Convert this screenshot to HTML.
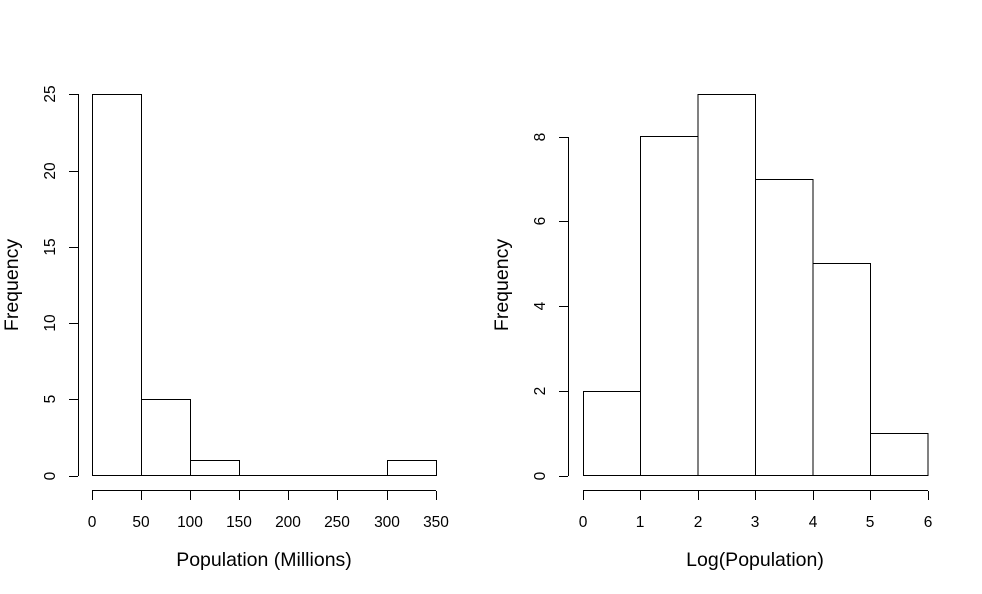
<!DOCTYPE html><html><head><style>body{margin:0;background:#fff}</style></head><body>
<svg width="982" height="589" xmlns="http://www.w3.org/2000/svg" font-family="Liberation Sans, sans-serif" fill="none" stroke="#000" stroke-width="1">
<g>
<rect x="92.5" y="94.5" width="49" height="381"/>
<rect x="141.5" y="399.5" width="49" height="76"/>
<rect x="190.5" y="460.5" width="49" height="15"/>
<line x1="239" y1="475.5" x2="387" y2="475.5"/>
<rect x="387.5" y="460.5" width="49" height="15"/>
<line x1="78.5" y1="94" x2="78.5" y2="476"/>
<g><line x1="69" y1="476.5" x2="78" y2="476.5"/><line x1="69" y1="399.5" x2="78" y2="399.5"/><line x1="69" y1="323.5" x2="78" y2="323.5"/><line x1="69" y1="247.5" x2="78" y2="247.5"/><line x1="69" y1="171.5" x2="78" y2="171.5"/><line x1="69" y1="94.5" x2="78" y2="94.5"/></g>
<line x1="92" y1="490.5" x2="436" y2="490.5"/>
<g><line x1="92.5" y1="491" x2="92.5" y2="500"/><line x1="141.5" y1="491" x2="141.5" y2="500"/><line x1="190.5" y1="491" x2="190.5" y2="500"/><line x1="239.5" y1="491" x2="239.5" y2="500"/><line x1="288.5" y1="491" x2="288.5" y2="500"/><line x1="337.5" y1="491" x2="337.5" y2="500"/><line x1="387.5" y1="491" x2="387.5" y2="500"/><line x1="436.5" y1="491" x2="436.5" y2="500"/></g>
<g fill="#000" stroke="none" font-size="15.5" text-anchor="middle">
<text x="92" y="527">0</text><text x="141" y="527">50</text><text x="190" y="527">100</text><text x="239" y="527">150</text><text x="288" y="527">200</text><text x="337" y="527">250</text><text x="387" y="527">300</text><text x="436" y="527">350</text>
<text transform="translate(55,476) rotate(-90)">0</text><text transform="translate(55,399) rotate(-90)">5</text><text transform="translate(55,323) rotate(-90)">10</text><text transform="translate(55,247) rotate(-90)">15</text><text transform="translate(55,171) rotate(-90)">20</text><text transform="translate(55,94) rotate(-90)">25</text>
<text x="264" y="566" font-size="19.5">Population (Millions)</text>
<text transform="translate(18,285) rotate(-90)" font-size="19.5">Frequency</text>
</g>
</g>
<g>
<rect x="583.5" y="391.5" width="57" height="84"/>
<rect x="640.5" y="136.5" width="57.5" height="339"/>
<rect x="698" y="94.5" width="57.5" height="381"/>
<rect x="755.5" y="179.5" width="57.5" height="296"/>
<rect x="813" y="263.5" width="57.5" height="212"/>
<rect x="870.5" y="433.5" width="57.5" height="42"/>
<line x1="568.5" y1="137" x2="568.5" y2="476"/>
<g><line x1="559" y1="476.5" x2="568" y2="476.5"/><line x1="559" y1="391.5" x2="568" y2="391.5"/><line x1="559" y1="306.5" x2="568" y2="306.5"/><line x1="559" y1="221.5" x2="568" y2="221.5"/><line x1="559" y1="137.5" x2="568" y2="137.5"/></g>
<line x1="583" y1="490.5" x2="928" y2="490.5"/>
<g><line x1="583.5" y1="491" x2="583.5" y2="500"/><line x1="640.5" y1="491" x2="640.5" y2="500"/><line x1="698.5" y1="491" x2="698.5" y2="500"/><line x1="755.5" y1="491" x2="755.5" y2="500"/><line x1="813.5" y1="491" x2="813.5" y2="500"/><line x1="870.5" y1="491" x2="870.5" y2="500"/><line x1="928.5" y1="491" x2="928.5" y2="500"/></g>
<g fill="#000" stroke="none" font-size="15.5" text-anchor="middle">
<text x="583" y="527">0</text><text x="640" y="527">1</text><text x="698" y="527">2</text><text x="755" y="527">3</text><text x="813" y="527">4</text><text x="870" y="527">5</text><text x="928" y="527">6</text>
<text transform="translate(545,476) rotate(-90)">0</text><text transform="translate(545,391) rotate(-90)">2</text><text transform="translate(545,306) rotate(-90)">4</text><text transform="translate(545,221) rotate(-90)">6</text><text transform="translate(545,137) rotate(-90)">8</text>
<text x="755" y="566" font-size="19.5">Log(Population)</text>
<text transform="translate(508,285) rotate(-90)" font-size="19.5">Frequency</text>
</g>
</g>
</svg></body></html>
